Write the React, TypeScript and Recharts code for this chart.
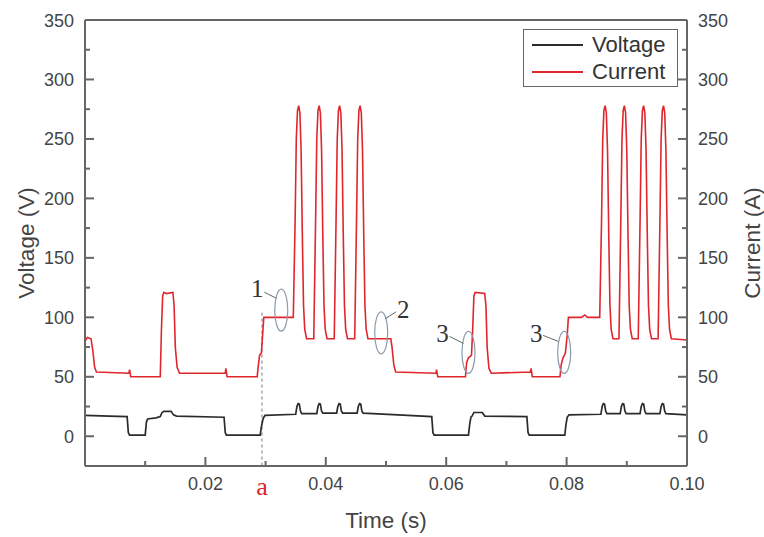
import React from "react";
import {
  LineChart,
  Line,
  XAxis,
  YAxis,
  Legend,
  Label,
  ReferenceLine,
  ReferenceDot,
} from "recharts";

// time (s), value
const voltagePoints: [number, number][] = [
  [0, 17.5], [0.004, 17], [0.007, 16.5], [0.0072, 3], [0.0074, 1], [0.01, 1],
  [0.0102, 12], [0.0104, 14.5], [0.0118, 15.5], [0.0125, 16.5], [0.0128, 20],
  [0.0131, 21], [0.0143, 21], [0.0147, 18], [0.0152, 17], [0.0231, 16],
  [0.0233, 3], [0.0235, 1], [0.0291, 1], [0.0293, 8], [0.0296, 15],
  [0.0299, 17.5], [0.035, 18.5],
  [0.0352, 25], [0.0354, 27.5], [0.0356, 27], [0.0358, 21], [0.036, 19],
  [0.0385, 19], [0.0387, 25], [0.0389, 27.5], [0.0391, 27], [0.0393, 21], [0.0395, 19.5],
  [0.0418, 19.5], [0.042, 25], [0.0422, 27.5], [0.0424, 27], [0.0426, 21], [0.0428, 19.5],
  [0.0452, 19.5], [0.0454, 25], [0.0456, 27.5], [0.0458, 27], [0.046, 21], [0.0462, 19.5],
  [0.052, 18], [0.0576, 16.5], [0.0578, 3], [0.058, 1], [0.0637, 1],
  [0.0639, 10], [0.0641, 16], [0.0643, 17], [0.0646, 20], [0.066, 20],
  [0.0664, 17], [0.0734, 16.5], [0.0736, 3], [0.0738, 1], [0.0797, 1],
  [0.0799, 10], [0.0801, 16], [0.0804, 18], [0.0857, 18.5],
  [0.0859, 25], [0.0861, 27.5], [0.0863, 27], [0.0865, 21], [0.0867, 19],
  [0.0889, 19], [0.0891, 25], [0.0893, 27.5], [0.0895, 27], [0.0897, 21], [0.0899, 19],
  [0.0922, 19], [0.0924, 25], [0.0926, 27.5], [0.0928, 27], [0.093, 21], [0.0932, 19],
  [0.0955, 19], [0.0957, 25], [0.0959, 27.5], [0.0961, 27], [0.0963, 21], [0.0965, 19],
  [0.1, 18],
];

const currentPoints: [number, number][] = [
  [0, 80], [0.0004, 83], [0.001, 82], [0.0013, 72], [0.0016, 58], [0.0019, 54],
  [0.0073, 53], [0.0074, 56], [0.0076, 50], [0.0125, 50], [0.0127, 90],
  [0.0129, 118], [0.0131, 121], [0.0135, 120], [0.0146, 121], [0.0148, 110],
  [0.015, 75], [0.0153, 58], [0.0157, 53], [0.0233, 53], [0.0234, 57],
  [0.0236, 50], [0.0286, 50], [0.0288, 60], [0.029, 68], [0.0293, 70],
  [0.0295, 85], [0.0297, 100], [0.0346, 100],
  [0.0349, 180], [0.0351, 250], [0.0353, 274], [0.0355, 278], [0.0357, 272],
  [0.0359, 240], [0.0361, 170], [0.0363, 110], [0.0365, 90], [0.0368, 82], [0.038, 82],
  [0.0383, 180], [0.0385, 250], [0.0387, 274], [0.0389, 278], [0.0391, 272],
  [0.0393, 240], [0.0395, 170], [0.0397, 110], [0.0399, 90], [0.0402, 82], [0.0414, 82],
  [0.0417, 180], [0.0419, 250], [0.0421, 274], [0.0423, 278], [0.0425, 272],
  [0.0427, 240], [0.0429, 170], [0.0431, 110], [0.0433, 90], [0.0436, 82], [0.0448, 82],
  [0.0451, 180], [0.0453, 250], [0.0455, 274], [0.0457, 278], [0.0459, 272],
  [0.0461, 240], [0.0463, 170], [0.0465, 110], [0.0467, 90], [0.047, 82],
  [0.0508, 82], [0.051, 75], [0.0513, 60], [0.0516, 54], [0.0583, 53],
  [0.0584, 56], [0.0586, 50], [0.0632, 50], [0.0634, 62], [0.0637, 66],
  [0.0642, 68], [0.0644, 90], [0.0646, 118], [0.0648, 121], [0.0664, 120],
  [0.0666, 110], [0.0668, 75], [0.0671, 57], [0.0675, 53], [0.074, 54],
  [0.0741, 57], [0.0743, 50], [0.0789, 50], [0.0791, 60], [0.0794, 66],
  [0.0798, 70], [0.0801, 85], [0.0803, 100], [0.0825, 100], [0.083, 102],
  [0.0835, 100], [0.0855, 100],
  [0.0858, 180], [0.086, 250], [0.0862, 274], [0.0864, 278], [0.0866, 272],
  [0.0868, 240], [0.087, 170], [0.0872, 110], [0.0874, 90], [0.0877, 82], [0.0887, 82],
  [0.089, 180], [0.0892, 250], [0.0894, 274], [0.0896, 278], [0.0898, 272],
  [0.09, 240], [0.0902, 170], [0.0904, 110], [0.0906, 90], [0.0909, 82], [0.0919, 82],
  [0.0922, 180], [0.0924, 250], [0.0926, 274], [0.0928, 278], [0.093, 272],
  [0.0932, 240], [0.0934, 170], [0.0936, 110], [0.0938, 90], [0.0941, 82], [0.0952, 82],
  [0.0955, 180], [0.0957, 250], [0.0959, 274], [0.0961, 278], [0.0963, 272],
  [0.0965, 240], [0.0967, 170], [0.0969, 110], [0.0971, 90], [0.0974, 82], [0.1, 81],
];

const timeTicks = [0, 0.01, 0.02, 0.03, 0.04, 0.05, 0.06, 0.07, 0.08, 0.09, 0.1];
const valueTicks = [0, 25, 50, 75, 100, 125, 150, 175, 200, 225, 250, 275, 300, 325, 350];

const markerTime = 0.0294;
const markerTop = 104;

const annotations = [
  { label: "1", t: 0.0326, v: 106, tx: -24, ty: -22, lx: [-17, -5], ly: [-18, -12] },
  { label: "2", t: 0.0492, v: 87, tx: 22, ty: -23, lx: [15, 4], ly: [-21, -14] },
  { label: "3", t: 0.0637, v: 70.5, tx: -26, ty: -19, lx: [-19, -5], ly: [-16, -9] },
  { label: "3", t: 0.0796, v: 70.5, tx: -28, ty: -19, lx: [-21, -6], ly: [-17, -11] },
];

const AXIS = "#666";
const TEXT = "#444";
const VOLT = "#2b2b2b";
const CURR = "#e0262d";
const SANS = "'Liberation Sans', Arial, sans-serif";
const SERIF = "'Liberation Serif', 'Times New Roman', serif";

const voltageRows = voltagePoints.map(([t, v]) => ({ t, v }));
const currentRows = currentPoints.map(([t, i]) => ({ t, i }));

const TimeTick = (props: any) => {
  const { x, y, payload } = props;
  const v = payload.value;
  const major = Math.round(v * 100) % 2 === 0;
  return (
    <g>
      <line x1={x} y1={y} x2={x} y2={y - (major ? 9 : 5)} stroke={AXIS} strokeWidth={2} />
      {major && v > 0.001 && (
        <text x={x} y={y + 24} textAnchor="middle" fontSize={18} fill={TEXT} fontFamily={SANS}>
          {v.toFixed(2)}
        </text>
      )}
    </g>
  );
};

const ValueTick = (side: "left" | "right") => (props: any) => {
  const { x, y, payload } = props;
  const v = payload.value;
  const major = v % 50 === 0;
  const dir = side === "left" ? 1 : -1;
  return (
    <g>
      <line x1={x} y1={y} x2={x + dir * (major ? 9 : 5)} y2={y} stroke={AXIS} strokeWidth={2} />
      {major && (
        <text
          x={side === "left" ? x - 11 : x + 11}
          y={y + 6.5}
          textAnchor={side === "left" ? "end" : "start"}
          fontSize={18}
          fill={TEXT}
          fontFamily={SANS}
        >
          {v}
        </text>
      )}
    </g>
  );
};

const Note = (a: (typeof annotations)[number]) => (props: any) => {
  const { cx, cy } = props;
  return (
    <g>
      <ellipse cx={cx} cy={cy} rx={6.5} ry={21} fill="none" stroke="#8a9bab" strokeWidth={1.2} />
      <line
        x1={cx + a.lx[0]}
        y1={cy + a.ly[0]}
        x2={cx + a.lx[1]}
        y2={cy + a.ly[1]}
        stroke="#666"
        strokeWidth={1}
      />
      <text
        x={cx + a.tx}
        y={cy + a.ty}
        textAnchor="middle"
        dominantBaseline="central"
        fontSize={25}
        fill="#333"
        fontFamily={SERIF}
      >
        {a.label}
      </text>
    </g>
  );
};

const legendItems = [
  { name: "Voltage", color: VOLT },
  { name: "Current", color: CURR },
];

const LegendBox = () => (
  <div
    style={{
      border: `1.5px solid ${AXIS}`,
      background: "#fff",
      height: 58,
      boxSizing: "border-box",
      paddingTop: 1,
      fontFamily: SANS,
    }}
  >
    {legendItems.map((it) => (
      <div key={it.name} style={{ display: "flex", alignItems: "center", height: 27 }}>
        <div style={{ width: 51, height: 0, borderTop: `2px solid ${it.color}`, marginLeft: 8 }} />
        <span style={{ marginLeft: 9, fontSize: 22, color: "#333", lineHeight: "27px" }}>{it.name}</span>
      </div>
    ))}
  </div>
);

const axisTitle = (text: string, dx: number, rotate: boolean) => (p: any) => {
  const vb = p.viewBox;
  const x = rotate ? vb.x + dx : vb.x + vb.width / 2;
  const y = rotate ? vb.y + vb.height / 2 : vb.y + dx;
  return (
    <text
      x={x}
      y={y}
      transform={rotate ? `rotate(-90, ${x}, ${y})` : undefined}
      textAnchor="middle"
      dominantBaseline="central"
      fontSize={22.5}
      fill={TEXT}
      fontFamily={SANS}
    >
      {text}
    </text>
  );
};

export default function App() {
  return (
    <div style={{ position: "absolute", left: 0, top: 0, background: "#fff" }}>
      <LineChart width={764} height={537} margin={{ top: 20, right: 0, bottom: 0, left: 0 }}>
        <XAxis
          dataKey="t"
          type="number"
          domain={[0, 0.1]}
          ticks={timeTicks}
          allowDataOverflow
          height={71}
          tickSize={0}
          tickMargin={0}
          tickLine={false}
          axisLine={{ stroke: AXIS, strokeWidth: 2 }}
          tick={<TimeTick />}
          interval={0}
        >
          <Label content={axisTitle("Time (s)", 54, false)} />
        </XAxis>
        <YAxis
          yAxisId="left"
          type="number"
          domain={[-25, 350]}
          ticks={valueTicks}
          allowDataOverflow
          width={85}
          tickSize={0}
          tickMargin={0}
          tickLine={false}
          axisLine={{ stroke: AXIS, strokeWidth: 2 }}
          tick={ValueTick("left")}
          interval={0}
        >
          <Label content={axisTitle("Voltage (V)", 26, true)} />
        </YAxis>
        <YAxis
          yAxisId="right"
          orientation="right"
          type="number"
          domain={[-25, 350]}
          ticks={valueTicks}
          allowDataOverflow
          width={77}
          tickSize={0}
          tickMargin={0}
          tickLine={false}
          axisLine={{ stroke: AXIS, strokeWidth: 2 }}
          tick={ValueTick("right")}
          interval={0}
        >
          <Label content={axisTitle("Current (A)", 65, true)} />
        </YAxis>
        <ReferenceLine yAxisId="left" y={350} stroke={AXIS} strokeWidth={2} />
        <ReferenceLine
          yAxisId="left"
          segment={[
            { x: markerTime, y: markerTop },
            { x: markerTime, y: -25 },
          ]}
          stroke="#777"
          strokeWidth={1}
          strokeDasharray="3 3"
        />
        <Line
          yAxisId="left"
          data={voltageRows}
          dataKey="v"
          type="linear"
          stroke={VOLT}
          strokeWidth={1.7}
          dot={false}
          isAnimationActive={false}
          name="Voltage"
        />
        <Line
          yAxisId="right"
          data={currentRows}
          dataKey="i"
          type="linear"
          stroke={CURR}
          strokeWidth={1.6}
          dot={false}
          isAnimationActive={false}
          name="Current"
        />
        {annotations.map((a, k) => (
          <ReferenceDot key={k} yAxisId="right" x={a.t} y={a.v} r={0} shape={Note(a)} />
        ))}
        <ReferenceDot
          yAxisId="left"
          x={markerTime}
          y={-25}
          r={0}
          shape={(p: any) => (
            <text
              x={p.cx}
              y={p.cy + 29}
              textAnchor="middle"
              fontSize={26}
              fill="#d8232a"
              fontFamily={SERIF}
            >
              a
            </text>
          )}
        />
        <Legend
          verticalAlign="middle"
          align="center"
          layout="vertical"
          wrapperStyle={{ top: 29, left: 523, width: 155, height: 58 }}
          content={() => <LegendBox />}
        />
      </LineChart>
    </div>
  );
}
